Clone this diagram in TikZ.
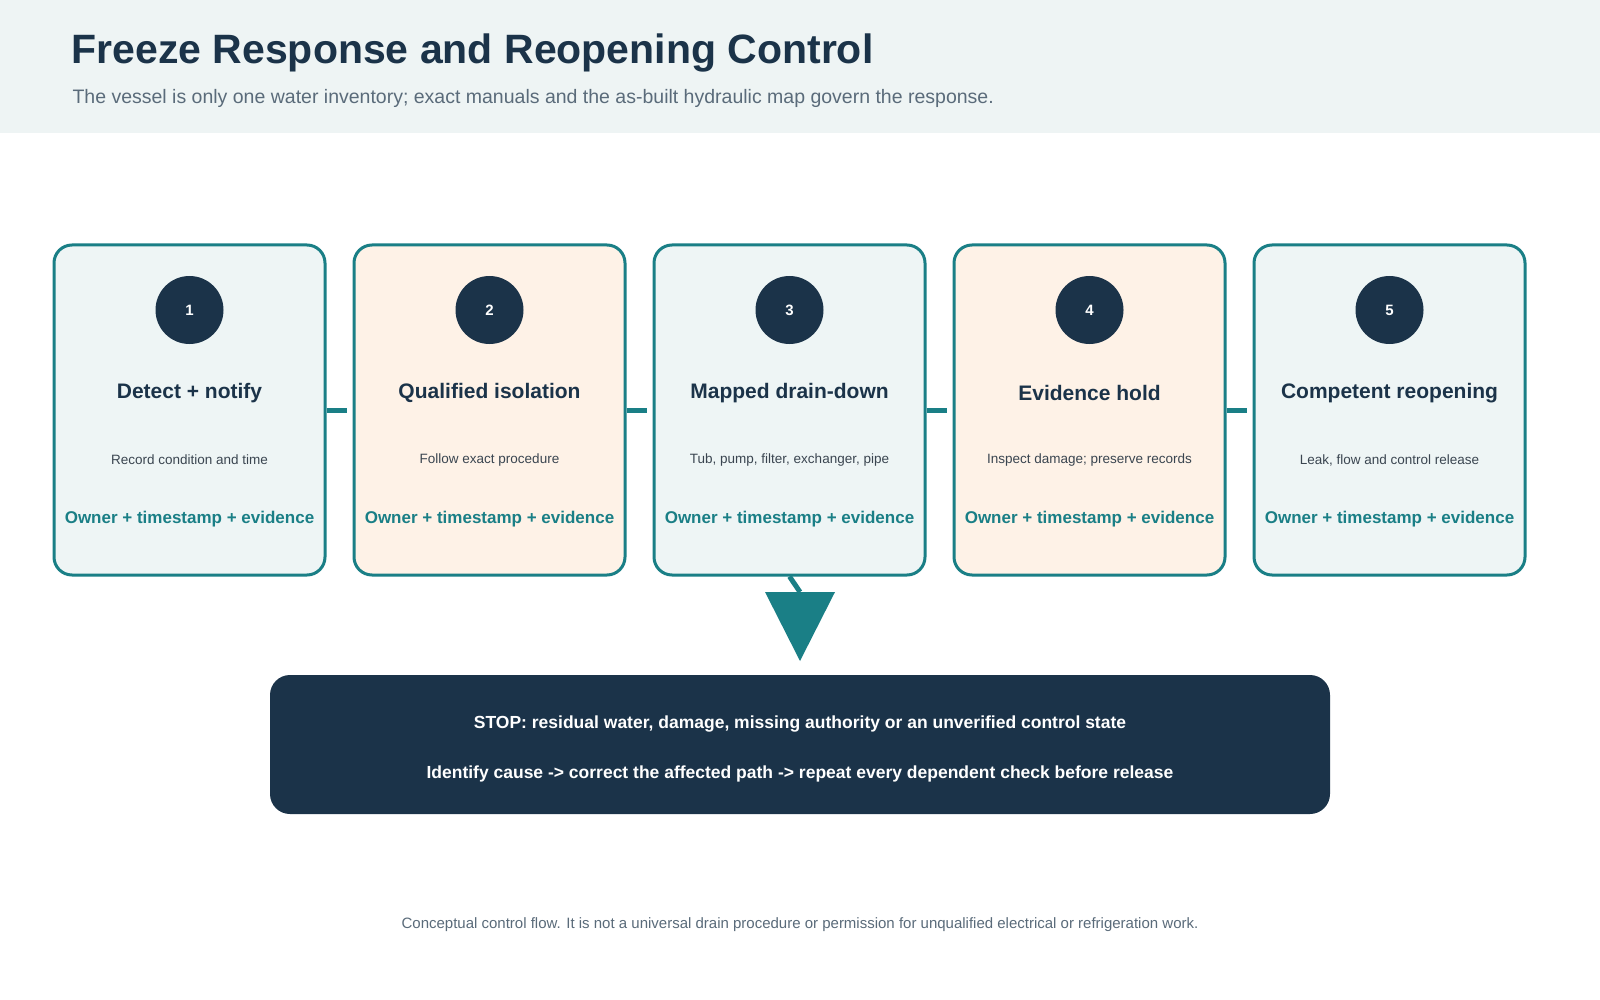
\documentclass[tikz,border=0pt]{standalone}
\usepackage{fontspec}
\setmainfont{Liberation Sans}
\definecolor{navy}{HTML}{1B3349}
\definecolor{teal}{HTML}{1A7F86}
\definecolor{lblue}{HTML}{EEF5F5}
\definecolor{peach}{HTML}{FEF2E7}
\definecolor{hdr}{HTML}{EEF4F4}
\definecolor{gry}{HTML}{5A6B7A}
\definecolor{txt}{HTML}{3A4550}
\begin{document}
\begin{tikzpicture}[x=1pt,y=-1pt,
 box/.style={draw=teal,line width=3pt,rounded corners=18pt,minimum width=271pt,minimum height=330pt,inner sep=0pt},
 num/.style={circle,fill=navy,minimum size=68pt,text=white,font=\fontsize{15}{15}\selectfont\bfseries},
 ttl/.style={text=navy,font=\fontsize{21}{21}\selectfont\bfseries},
 sub/.style={text=txt,font=\fontsize{13.5}{13.5}\selectfont},
 own/.style={text=teal,font=\fontsize{17}{17}\selectfont\bfseries},
 con/.style={draw=teal,line width=5pt}]
\useasboundingbox (0,0) rectangle (1600,1000);
\fill[white] (0,0) rectangle (1600,1000);
\fill[hdr] (0,0) rectangle (1600,133);
\node[anchor=west,text=navy,font=\fontsize{41}{41}\selectfont\bfseries] (title) at (68,53) {Freeze Response and Reopening Control};
\node[anchor=west,text=gry,font=\fontsize{19.5}{19.5}\selectfont] (subt) at (69,98) {The vessel is only one water inventory; exact manuals and the as-built hydraulic map govern the response.};
\foreach \i/\c/\t/\s in {1/lblue/Detect + notify/Record condition and time,
 2/peach/Qualified isolation/Follow exact procedure,
 3/lblue/Mapped drain-down/{Tub, pump, filter, exchanger, pipe},
 4/peach/Evidence hold/Inspect damage; preserve records,
 5/lblue/Competent reopening/{Leak, flow and control release}}{
 \pgfmathsetmacro{\xc}{189.5+300*(\i-1)}
 \node[box,fill=\c] (b\i) at (\xc,410) {};
 \node[num] (n\i) at (\xc,310) {\i};
 \node[ttl] (t\i) at (\xc,393) {\t};
 \node[sub] (s\i) at (\xc,460) {\s};
 \node[own] (o\i) at (\xc,519) {Owner + timestamp + evidence};
}
\foreach \a/\b in {1/2,2/3,3/4,4/5}{
 \coordinate (e\a) at ([xshift=20pt]b\a.east);
 \draw[con] (b\a.east) -- (e\a);
}
\node[fill=navy,rounded corners=20pt,minimum width=1060pt,minimum height=139pt] (stop) at (800,744.5) {};
\node[text=white,font=\fontsize{17.5}{17.5}\selectfont\bfseries] (l1) at (800,724) {STOP: residual water, damage, missing authority or an unverified control state};
\node[text=white,font=\fontsize{17.5}{17.5}\selectfont\bfseries] (l2) at (800,774) {Identify cause -> correct the affected path -> repeat every dependent check before release};
\coordinate (tp) at (800,592);
\draw[con] (b3.south) -- (tp);
\fill[teal] (765,592) -- (835,592) -- (800,661) -- cycle;
\node[text=gry,font=\fontsize{15}{15}\selectfont] (foot) at (800,925) {Conceptual control flow. It is not a universal drain procedure or permission for unqualified electrical or refrigeration work.};
\end{tikzpicture}
\end{document}
